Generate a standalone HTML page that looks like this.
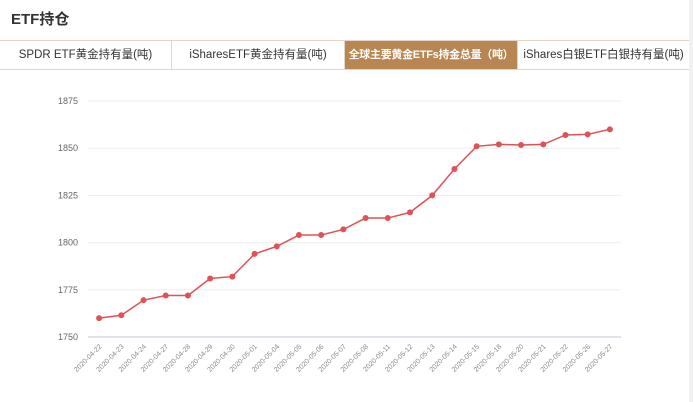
<!DOCTYPE html>
<html><head><meta charset="utf-8">
<style>
body{margin:0;width:693px;height:402px;background:#fff;font-family:"Liberation Sans","Noto Sans CJK SC",sans-serif;position:relative;overflow:hidden}
.title{position:absolute;left:11px;top:8px;font-size:15px;font-weight:bold;color:#333}
.tabs{position:absolute;left:0;top:40px;width:689px;height:28px;border-top:1px solid #e3d6c8;border-bottom:1px solid #e3d6c8;display:flex}
.tab{height:28px;line-height:28px;text-align:center;font-size:11.5px;color:#333;border-right:1px solid #e3d6c8;box-sizing:border-box;white-space:nowrap;overflow:hidden}
.tab.active{background:#b98550;color:#fff;font-weight:bold;font-size:11px;letter-spacing:-0.3px}
.sb{position:absolute;right:0;top:0;width:4px;height:402px;background:#f1f1f1}
svg{position:absolute;left:0;top:0}
</style></head><body>
<div class="title">ETF持仓</div>
<div class="tabs">
<div class="tab" style="width:172px">SPDR ETF黄金持有量(吨)</div>
<div class="tab" style="width:173px">iSharesETF黄金持有量(吨)</div>
<div class="tab active" style="width:173px">全球主要黄金ETFs持金总量（吨）</div>
<div class="tab" style="width:171px;border-right:none">iShares白银ETF白银持有量(吨)</div>
</div>
<div class="sb"></div>
<svg id="chart" width="693" height="402"></svg>
<script>
const categories=["2020-04-22","2020-04-23","2020-04-24","2020-04-27","2020-04-28","2020-04-29","2020-04-30","2020-05-01","2020-05-04","2020-05-05","2020-05-06","2020-05-07","2020-05-08","2020-05-11","2020-05-12","2020-05-13","2020-05-14","2020-05-15","2020-05-18","2020-05-20","2020-05-21","2020-05-22","2020-05-26","2020-05-27"];
const values=[1760,1761.5,1769.5,1772,1772,1781,1782,1794,1798,1804,1804,1807,1813,1813,1816,1825,1839,1851,1852,1851.7,1852,1857,1857.3,1860];
const yTicks=[1750,1775,1800,1825,1850,1875];
const NS="http://www.w3.org/2000/svg";
const svg=document.getElementById('chart');
const L=88,R=621,T=101,B=337,yMin=1750,yMax=1875;
const step=(R-L)/categories.length;
function xs(i){return L+step*(i+0.5);}
function ys(v){return B-(v-yMin)/(yMax-yMin)*(B-T);}
function mk(tag,attrs){const e=document.createElementNS(NS,tag);for(const k in attrs)e.setAttribute(k,attrs[k]);svg.appendChild(e);return e;}
yTicks.forEach(v=>{
 const g=mk('line',{x1:L,x2:R,y1:ys(v),y2:ys(v),stroke:v===yMin?'#e0e3ea':'#eeeeee','stroke-width':v===yMin?2:1});
 
 
 const t=mk('text',{x:78,y:ys(v)+3,'text-anchor':'end','font-size':9,fill:'#666'});
 t.textContent=v;
 
 
});
categories.forEach((c,i)=>{
 const x=xs(i)+3,y=B+10;
 const t=mk('text',{x:x,y:y,'text-anchor':'end','font-size':7,fill:'#888',transform:`rotate(-45 ${x} ${y})`});
 t.textContent=c;
 
 
});
const p=mk('polyline',{points:values.map((v,i)=>xs(i)+','+ys(v)).join(' '),fill:'none',stroke:'#e05257','stroke-width':1.5});


values.forEach((v,i)=>{
 const c=mk('circle',{cx:xs(i),cy:ys(v),r:3,fill:'#e05257'});
 
 
});
</script>
</body></html>
